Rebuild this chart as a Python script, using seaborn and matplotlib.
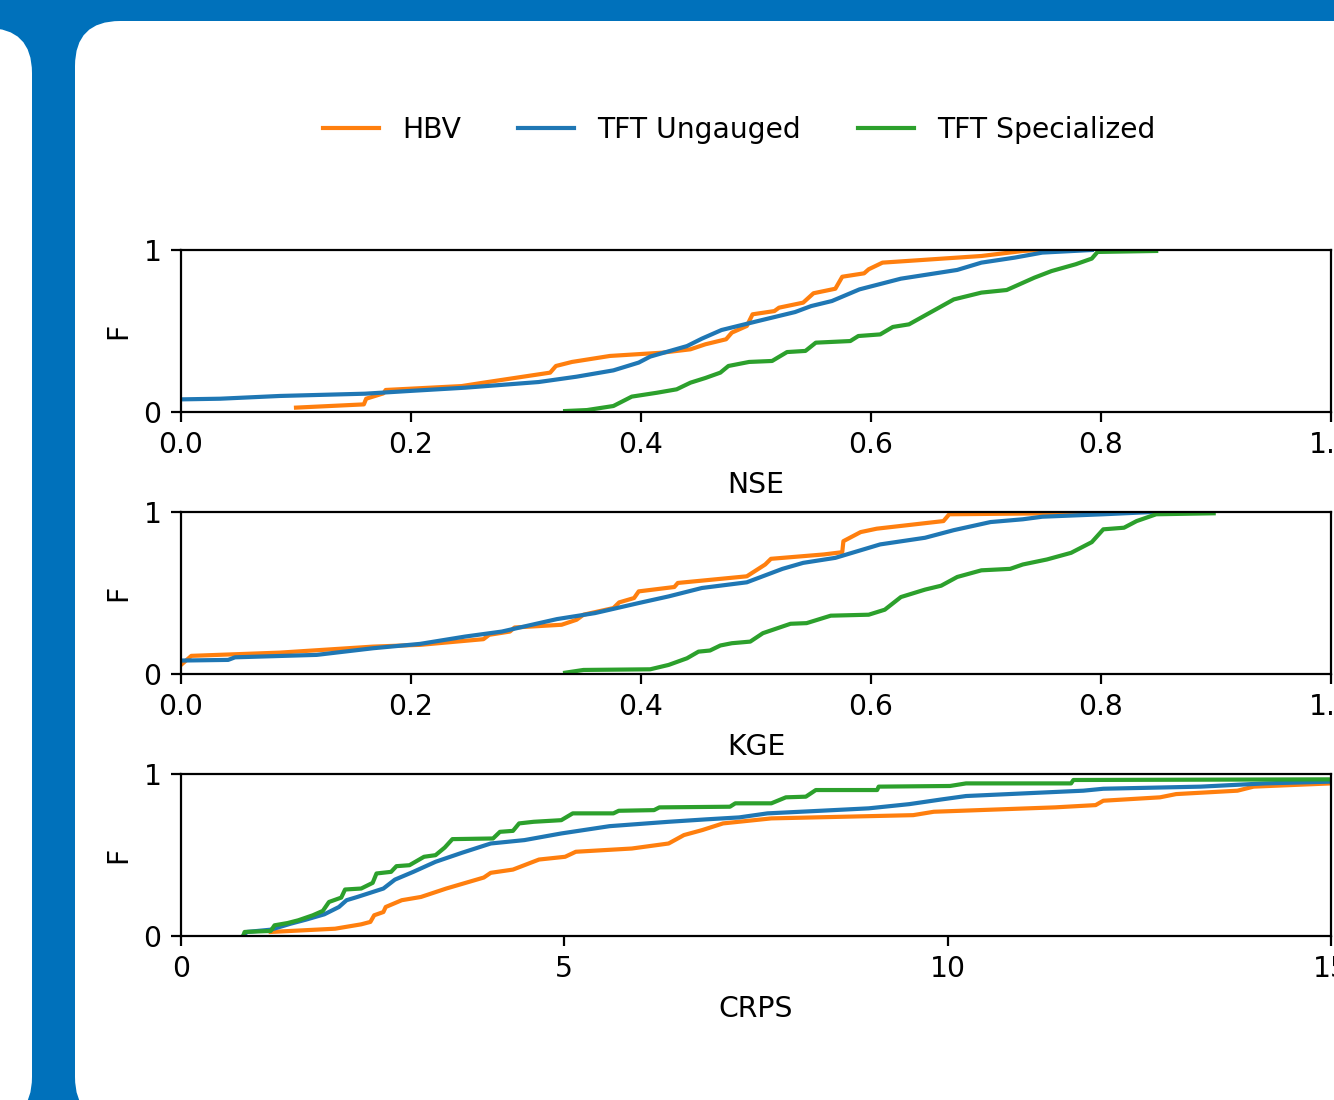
import pandas as pd
import seaborn as sns
import matplotlib.pyplot as plt
from matplotlib.patches import FancyBboxPatch

# ---- data (sorted score vs. cumulative fraction) ----
models = ['HBV', 'TFT Ungauged', 'TFT Specialized']
colors = ['#ff7f0e', '#1f77b4', '#2ca02c']
metrics = ['NSE', 'KGE', 'CRPS']

nse_hbv_x = [0.100, 0.159, 0.161, 0.176, 0.178, 0.244, 0.263, 0.321, 0.326, 0.340,
             0.373, 0.418, 0.443, 0.456, 0.474, 0.479, 0.492, 0.497, 0.516, 0.520,
             0.541, 0.550, 0.569, 0.575, 0.594, 0.598, 0.610, 0.696, 0.732, 0.745]
nse_hbv_f = [0.027, 0.047, 0.082, 0.115, 0.136, 0.160, 0.181, 0.243, 0.284, 0.309,
             0.346, 0.366, 0.387, 0.418, 0.449, 0.490, 0.531, 0.603, 0.623, 0.644,
             0.675, 0.733, 0.761, 0.835, 0.856, 0.881, 0.922, 0.963, 0.994, 1.0]
nse_tft_x = [0.0, 0.034, 0.086, 0.160, 0.199, 0.247, 0.311, 0.344, 0.376, 0.398,
             0.408, 0.440, 0.453, 0.470, 0.502, 0.534, 0.548, 0.566, 0.590, 0.626,
             0.675, 0.696, 0.725, 0.749, 0.792]
nse_tft_f = [0.078, 0.082, 0.099, 0.113, 0.130, 0.150, 0.185, 0.218, 0.257, 0.305,
             0.342, 0.407, 0.453, 0.506, 0.562, 0.617, 0.654, 0.685, 0.757, 0.823,
             0.877, 0.922, 0.953, 0.984, 1.0]
nse_spec_x = [0.334, 0.353, 0.376, 0.392, 0.414, 0.431, 0.443, 0.456, 0.469, 0.476,
              0.494, 0.514, 0.527, 0.543, 0.552, 0.582, 0.589, 0.608, 0.619, 0.633,
              0.672, 0.696, 0.718, 0.742, 0.757, 0.778, 0.792, 0.797, 0.848]
nse_spec_f = [0.006, 0.012, 0.037, 0.095, 0.119, 0.140, 0.181, 0.210, 0.243, 0.284,
              0.309, 0.315, 0.370, 0.377, 0.428, 0.438, 0.469, 0.479, 0.525, 0.541,
              0.695, 0.737, 0.753, 0.829, 0.870, 0.912, 0.947, 0.988, 0.994]

kge_hbv_x = [0.0, 0.009, 0.086, 0.167, 0.208, 0.263, 0.268, 0.286, 0.290, 0.331,
             0.344, 0.350, 0.376, 0.381, 0.394, 0.398, 0.429, 0.432, 0.492, 0.508,
             0.513, 0.559, 0.575, 0.576, 0.591, 0.605, 0.663, 0.668, 0.820]
kge_hbv_f = [0.056, 0.112, 0.132, 0.169, 0.180, 0.215, 0.242, 0.262, 0.287, 0.304,
             0.335, 0.366, 0.407, 0.442, 0.469, 0.510, 0.537, 0.562, 0.603, 0.676,
             0.711, 0.738, 0.752, 0.820, 0.876, 0.897, 0.944, 0.986, 0.996]
kge_tft_x = [0.0, 0.041, 0.047, 0.118, 0.167, 0.208, 0.247, 0.279, 0.327, 0.360,
             0.398, 0.424, 0.453, 0.492, 0.523, 0.541, 0.569, 0.608, 0.647, 0.672,
             0.704, 0.732, 0.749, 0.802, 0.845]
kge_tft_f = [0.083, 0.087, 0.103, 0.118, 0.159, 0.186, 0.231, 0.262, 0.339, 0.376,
             0.438, 0.479, 0.531, 0.566, 0.649, 0.686, 0.717, 0.800, 0.841, 0.888,
             0.938, 0.955, 0.971, 0.986, 1.0]
kge_spec_x = [0.334, 0.350, 0.408, 0.424, 0.440, 0.450, 0.460, 0.469, 0.479, 0.495,
              0.506, 0.530, 0.544, 0.565, 0.598, 0.612, 0.626, 0.647, 0.661, 0.675,
              0.696, 0.721, 0.732, 0.753, 0.774, 0.792, 0.802, 0.820, 0.831, 0.848,
              0.898]
kge_spec_f = [0.008, 0.025, 0.029, 0.056, 0.097, 0.138, 0.145, 0.176, 0.190, 0.200,
              0.252, 0.310, 0.314, 0.360, 0.366, 0.397, 0.475, 0.521, 0.545, 0.599,
              0.640, 0.649, 0.676, 0.707, 0.748, 0.814, 0.893, 0.903, 0.944, 0.986,
              0.992]

crps_hbv_x = [1.17, 2.01, 2.35, 2.47, 2.52, 2.64, 2.67, 2.88, 3.13, 3.46,
              3.95, 4.04, 4.33, 4.67, 5.01, 5.15, 5.88, 6.36, 6.56, 6.80,
              7.07, 7.70, 9.55, 9.82, 11.40, 11.93, 12.03, 12.77, 12.98, 13.78,
              13.99, 15.0]
crps_hbv_f = [0.025, 0.045, 0.072, 0.087, 0.128, 0.148, 0.179, 0.221, 0.241, 0.293,
              0.361, 0.390, 0.410, 0.472, 0.489, 0.520, 0.540, 0.571, 0.623, 0.654,
              0.695, 0.726, 0.746, 0.767, 0.794, 0.808, 0.835, 0.856, 0.876, 0.897,
              0.922, 0.942]
crps_tft_x = [0.81, 0.86, 1.17, 1.43, 1.63, 1.87, 2.06, 2.16, 2.30, 2.64,
              2.79, 3.03, 3.32, 3.66, 4.04, 4.48, 4.96, 5.59, 6.36, 6.85,
              7.28, 7.65, 8.34, 8.97, 9.50, 9.92, 10.24, 10.98, 11.77, 12.03,
              13.30, 14.14, 15.0]
crps_tft_f = [0.0, 0.025, 0.039, 0.076, 0.101, 0.134, 0.179, 0.221, 0.241, 0.293,
              0.348, 0.396, 0.458, 0.513, 0.571, 0.592, 0.633, 0.678, 0.705, 0.720,
              0.732, 0.757, 0.773, 0.788, 0.814, 0.843, 0.864, 0.880, 0.897, 0.909,
              0.922, 0.942, 0.953]
crps_spec_x = [0.81, 0.83, 1.17, 1.22, 1.39, 1.53, 1.72, 1.85, 1.93, 2.09,
               2.14, 2.35, 2.50, 2.55, 2.74, 2.81, 2.98, 3.17, 3.32, 3.44,
               3.54, 4.07, 4.16, 4.33, 4.41, 4.60, 4.96, 5.11, 5.64, 5.71,
               6.17, 6.24, 7.16, 7.23, 7.70, 7.89, 8.15, 8.28, 9.08, 9.10,
               10.03, 10.24, 11.61, 11.64, 15.0]
crps_spec_f = [0.0, 0.025, 0.031, 0.066, 0.080, 0.097, 0.128, 0.155, 0.210, 0.237,
               0.287, 0.293, 0.328, 0.386, 0.396, 0.431, 0.437, 0.489, 0.499, 0.546,
               0.598, 0.602, 0.643, 0.649, 0.695, 0.705, 0.715, 0.757, 0.757, 0.773,
               0.777, 0.794, 0.798, 0.819, 0.819, 0.856, 0.860, 0.901, 0.901, 0.922,
               0.926, 0.942, 0.942, 0.963, 0.967]

series = {
    'NSE': [(nse_hbv_x, nse_hbv_f), (nse_tft_x, nse_tft_f), (nse_spec_x, nse_spec_f)],
    'KGE': [(kge_hbv_x, kge_hbv_f), (kge_tft_x, kge_tft_f), (kge_spec_x, kge_spec_f)],
    'CRPS': [(crps_hbv_x, crps_hbv_f), (crps_tft_x, crps_tft_f), (crps_spec_x, crps_spec_f)],
}

frames = []
for metric in metrics:
    for model, (xs, fs) in zip(models, series[metric]):
        frames.append(pd.DataFrame({'metric': metric, 'model': model,
                                    'value': xs, 'F': fs}))
frame = pd.concat(frames, ignore_index=True)

# ---- the plot ----
W, H, dpi = 1334, 1100, 200
blue = '#0071bb'
plt.rcParams['font.size'] = 10.2

fig = plt.figure(figsize=(W / dpi, H / dpi), dpi=dpi, facecolor=blue)

# white rounded poster panels (pixel units, origin bottom-left)
def panel(left, top, right, bottom, r=45):
    p = FancyBboxPatch((left / dpi, (H - bottom) / dpi),
                       (right - left) / dpi, (bottom - top) / dpi,
                       boxstyle=f'round,pad=0,rounding_size={r / dpi}',
                       transform=fig.dpi_scale_trans,
                       fc='white', ec='none', zorder=-5)
    fig.add_artist(p)

panel(-200, 28, 32, 1122)
panel(75, 21, 1500, 1122)

tops = [250, 512, 774]
ax_h = 162
left, right = 181, 1331
xlims = {'NSE': (0, 1), 'KGE': (0, 1), 'CRPS': (0, 15)}
xticks = {'NSE': [0, 0.2, 0.4, 0.6, 0.8, 1.0],
          'KGE': [0, 0.2, 0.4, 0.6, 0.8, 1.0],
          'CRPS': [0, 5, 10, 15]}

axes = []
for metric, top in zip(metrics, tops):
    ax = fig.add_axes([left / W, 1 - (top + ax_h) / H, (right - left) / W, ax_h / H])
    sns.lineplot(data=frame[frame.metric == metric], x='value', y='F',
                 hue='model', hue_order=models, palette=colors,
                 sort=False, estimator=None, linewidth=1.5,
                 legend=(metric == 'NSE'), ax=ax)
    ax.set_xlim(*xlims[metric])
    ax.set_ylim(0, 1)
    ax.set_xticks(xticks[metric])
    if metric == 'CRPS':
        ax.set_xticklabels(['0', '5', '10', '15'])
    ax.set_yticks([0, 1])
    ax.set_yticklabels(['0', '1'])
    ax.set_xlabel(metric)
    ax.set_ylabel('F')
    axes.append(ax)

handles, labels = axes[0].get_legend_handles_labels()
axes[0].get_legend().remove()
fig.legend(handles, labels, loc='center', ncol=3, frameon=False,
           bbox_to_anchor=(739 / W, 1 - 130 / H))

fig.savefig('out.png', dpi=dpi, facecolor=fig.get_facecolor())
